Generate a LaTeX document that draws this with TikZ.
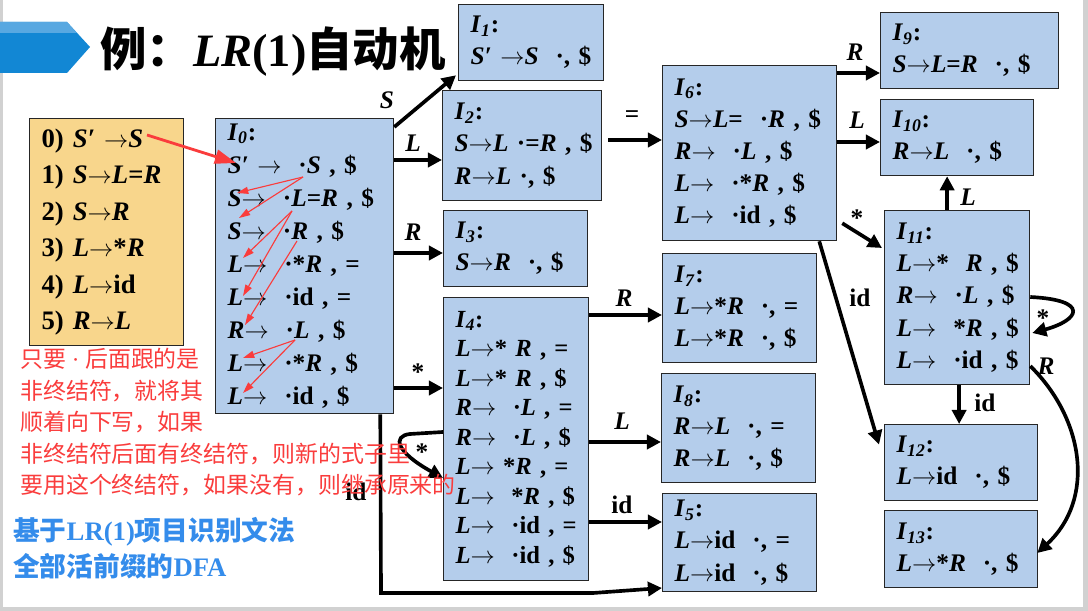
\documentclass[tikz,border=0pt]{standalone}
\usepackage{fontspec}
\setmainfont{Liberation Serif}
\newfontfamily\cjk{Noto Sans CJK SC}
\usetikzlibrary{arrows.meta, calc}
\definecolor{stateB}{RGB}{180,205,235}
\definecolor{gramY}{RGB}{248,214,140}
\definecolor{hintR}{RGB}{250,60,60}
\definecolor{noteB}{RGB}{52,140,235}
\definecolor{bannerB}{RGB}{18,135,212}
\definecolor{bannerL}{RGB}{88,168,225}
\newcommand\stname[1]{\textit{I}\textsubscript{\textit{#1}}:}
\newcommand\ra{\ensuremath{\rightarrow}}
\newcommand\boxfont{\fontsize{18}{22.8}\selectfont\bfseries}
\newcommand\labfont{\fontsize{18}{18}\selectfont\bfseries}
\tikzset{
  state/.style={draw=black!85, fill=stateB, line width=0.9pt, anchor=north west,
    inner xsep=0.3cm, inner ysep=0pt, align=left, font=\boxfont},
  boxsize/.style 2 args={minimum height=#2*0.025cm,
    /utils/exec={\pgfmathsetlengthmacro\boxtw{#1*0.025cm-0.6cm}}, text width=\boxtw},
  trans/.style={line width=2.6pt, -{Triangle[length=10pt,width=10pt]}},
  hint/.style={hintR, line width=0.8pt, -{Triangle[length=8pt,width=5pt]}},
  lab/.style={font=\labfont, inner sep=1pt},
}
\begin{document}
\begin{tikzpicture}[x=0.025cm, y=-0.025cm]
\useasboundingbox (0,0) rectangle (1088,611);
% ===== slide frame and title =====
\fill[black!18] (0,0) rectangle (1088,611);
\fill[white] (3,0) rectangle (1083,607);
\fill[bannerB] (0,22) -- (67,22) -- (90,47) -- (67,73) -- (0,73) -- cycle;
\fill[bannerL] (0,22) -- (67,22) -- (77,33) -- (0,33) -- cycle;
\node[anchor=base west, inner sep=0, font=\fontsize{33}{33}\selectfont\bfseries] (title) at (100,67)
  {\cjk 例：\rmfamily\textit{LR}(1)\cjk 自动机};
% ===== grammar =====
\node[state, fill=gramY, boxsize={154}{227}, font=\fontsize{19}{26}\selectfont\bfseries] (gram) at (29,118)
  {0)~\textit{S′}~\ra\textit{S}\\
   1)~\textit{S}\ra\textit{L}=\textit{R}\\
   2)~\textit{S}\ra\textit{R}\\
   3)~\textit{L}\ra*\textit{R}\\
   4)~\textit{L}\ra id\\
   5)~\textit{R}\ra\textit{L}};
% ===== item sets =====
\node[state, boxsize={178}{295}, font=\fontsize{18}{23.5}\selectfont\bfseries] (I0) at (215,118)
  {\stname{0}\\
   \textit{S′}~\ra~~·\textit{S}~,~\$\\
   \textit{S}\ra~~·\textit{L}=\textit{R}~,~\$\\
   \textit{S}\ra~~·\textit{R}~,~\$\\
   \textit{L}\ra~~·*\textit{R}~,~=\\
   \textit{L}\ra~~·id~,~=\\
   \textit{R}\ra~~·\textit{L}~,~\$\\
   \textit{L}\ra~~·*\textit{R}~,~\$\\
   \textit{L}\ra~~·id~,~\$};
\node[state, boxsize={145}{76}] (I1) at (458,4)
  {\stname{1}\\ \textit{S′}~\ra\textit{S}~~·,~\$};
\node[state, boxsize={159}{110}] (I2) at (442,90)
  {\stname{2}\\ \textit{S}\ra\textit{L}~·=\textit{R}~,~\$\\ \textit{R}\ra\textit{L}~·,~\$};
\node[state, boxsize={144}{76}] (I3) at (443,210)
  {\stname{3}\\ \textit{S}\ra\textit{R}~~·,~\$};
\node[state, boxsize={145}{283}, font=\fontsize{17.5}{21}\selectfont\bfseries] (I4) at (443,297)
  {\stname{4}\\
   \textit{L}\ra*~\textit{R}~,~=\\
   \textit{L}\ra*~\textit{R}~,~\$\\
   \textit{R}\ra~~·\textit{L}~,~=\\
   \textit{R}\ra~~·\textit{L}~,~\$\\
   \textit{L}\ra~*\textit{R}~,~=\\
   \textit{L}\ra~~*\textit{R}~,~\$\\
   \textit{L}\ra~~·id~,~=\\
   \textit{L}\ra~~·id~,~\$};
\node[state, boxsize={154}{98}] (I5) at (662,493)
  {\stname{5}\\ \textit{L}\ra id~~·,~=\\ \textit{L}\ra id~~·,~\$};
\node[state, boxsize={174}{175}] (I6) at (662,65)
  {\stname{6}\\
   \textit{S}\ra\textit{L}=~~·\textit{R}~,~\$\\
   \textit{R}\ra~~·\textit{L}~,~\$\\
   \textit{L}\ra~~·*\textit{R}~,~\$\\
   \textit{L}\ra~~·id~,~\$};
\node[state, boxsize={154}{109}] (I7) at (662,253)
  {\stname{7}\\ \textit{L}\ra*\textit{R}~~·,~=\\ \textit{L}\ra*\textit{R}~~·,~\$};
\node[state, boxsize={154}{109}] (I8) at (661,373)
  {\stname{8}\\ \textit{R}\ra\textit{L}~~·,~=\\ \textit{R}\ra\textit{L}~~·,~\$};
\node[state, boxsize={178}{76}] (I9) at (880,12)
  {\stname{9}\\ \textit{S}\ra\textit{L}=\textit{R}~~·,~\$};
\node[state, boxsize={153}{76}] (I10) at (880,99)
  {\stname{10}\\ \textit{R}\ra\textit{L}~~·,~\$};
\node[state, boxsize={145}{174}] (I11) at (884,210)
  {\stname{11}\\
   \textit{L}\ra*~~\textit{R}~,~\$\\
   \textit{R}\ra~~·\textit{L}~,~\$\\
   \textit{L}\ra~~*\textit{R}~,~\$\\
   \textit{L}\ra~~·id~,~\$};
\node[state, boxsize={153}{76}] (I12) at (884,424)
  {\stname{12}\\ \textit{L}\ra id~~·,~\$};
\node[state, boxsize={153}{77}] (I13) at (884,510)
  {\stname{13}\\ \textit{L}\ra*\textit{R}~~·,~\$};
% ===== transitions =====
\draw[trans] ($(I0.north east)+(0,9)$) -- ($(I1.south west)+(-2,-6)$);
\node[lab] (lS1) at (387,100) {\textit{S}};
\draw[trans] (I0.east |- 0,160) -- (I2.west |- 0,160);
\node[lab] (lL2) at (413,143) {\textit{L}};
\draw[trans] (I0.east |- 0,253) -- (I3.west |- 0,253);
\node[lab] (lR3) at (413,232) {\textit{R}};
\draw[trans] (I0.east |- 0,388) -- (I4.west |- 0,388);
\node[lab] (lA4) at (418,372) {*};
\draw[trans] ($(I0.south east)+(-14,0)$) -- (381,593) -- (593,593) -- (I5.west |- 0,588);
\node[lab] (lid5) at (356,492) {id};
% loop back into I4 on *
\draw[trans] (I4.west |- 0,432) -- (410,434) .. controls (392,436) and (396,452) .. (I4.west |- 0,478);
\node[lab] (lA44) at (422,452) {*};
\draw[trans] ($(I2.east |- 0,140)+(6,0)$) -- (I6.west |- 0,140);
\node[lab, font=\labfont\rmfamily] (lEq6) at (632,117) {=};
\draw[trans] (I4.east |- 0,315) -- (I7.west |- 0,315);
\node[lab] (lR7) at (624,298) {\textit{R}};
\draw[trans] (I4.east |- 0,442) -- (I8.west |- 0,442);
\node[lab] (lL8) at (622,421) {\textit{L}};
\draw[trans] (I4.east |- 0,522) -- (I5.west |- 0,522);
\node[lab] (lid45) at (622,505) {id};
\draw[trans] (I6.east |- 0,73) -- (I9.west |- 0,73);
\node[lab] (lR9) at (855,52) {\textit{R}};
\draw[trans] (I6.east |- 0,142) -- (I10.west |- 0,142);
\node[lab] (lL10) at (857,120) {\textit{L}};
\draw[trans] ($(I6.south east)+(5,-18)$) -- ($(I11.north west)+(-2,38)$);
\node[lab] (lA11) at (857,218) {*};
\draw[trans] ($(I6.south east)+(-18,0)$) -- ($(I12.west)+(-5,-18)$);
\node[lab] (lid12) at (860,298) {id};
\draw[trans] ($(I11.north)+(-10,0)$) -- ($(I10.south)+(-10,0)$);
\node[lab] (lL1110) at (968,197) {\textit{L}};
\draw[trans] ($(I11.south)+(2,0)$) -- ($(I11.south |- I12.north)+(2,0)$);
\node[lab] (lid1112) at (985,403) {id};
% I11 on * goes back to itself, on R to I13
\draw[trans] (I11.east |- 0,297) .. controls (1090,300) and (1080,320) .. ($(I11.east |- 0,333)+(2,0)$);
\node[lab] (lA1111) at (1043,318) {*};
\draw[trans] (I11.east |- 0,366) .. controls (1085,420) and (1095,500) .. ($(I13.east |- 0,553)+(-1,0)$);
\node[lab] (lR13) at (1046,366) {\textit{R}};
% ===== closure hints inside I0 =====
\foreach \n/\px/\py in {g0/147/135, h1/236/163, dS/303/177, dL/292/211, dR/297/241, dL2/295/340,
  h2/237/193, h3/239/218, h4/243/258, h5/243/296, h6/245/325, h7/243/358, h8/243/393}
  \coordinate (\n) at (\px,\py);
\draw[hint, line width=2pt, -{Triangle[length=15pt,width=10pt]}] (g0) -- (h1);
\foreach \a/\b in {dS/h2, dS/h3, dL/h4, dL/h5, dR/h6, dL2/h7, dL2/h8}
  \draw[hint] (\a) -- (\b);
% ===== notes =====
\node[anchor=west, inner sep=0, text=noteB, font=\fontsize{19}{19}\selectfont\bfseries] (dfa1) at (13,532)
  {\cjk 基于\rmfamily LR(1)\cjk 项目识别文法};
\node[anchor=west, inner sep=0, text=noteB, font=\fontsize{19}{19}\selectfont\bfseries] (dfa2) at (13,566)
  {\cjk 全部活前缀的\rmfamily DFA};
\node[anchor=north west, align=left, inner sep=0, text=hintR, font=\fontsize{16.3}{22.4}\selectfont\cjk] (note) at (20,348)
  {只要{\rmfamily\ ·\ }后面跟的是\\非终结符，就将其\\顺着向下写，如果\\非终结符后面有终结符，则新的式子里\\要用这个终结符，如果没有，则继承原来的};
\end{tikzpicture}
\end{document}
